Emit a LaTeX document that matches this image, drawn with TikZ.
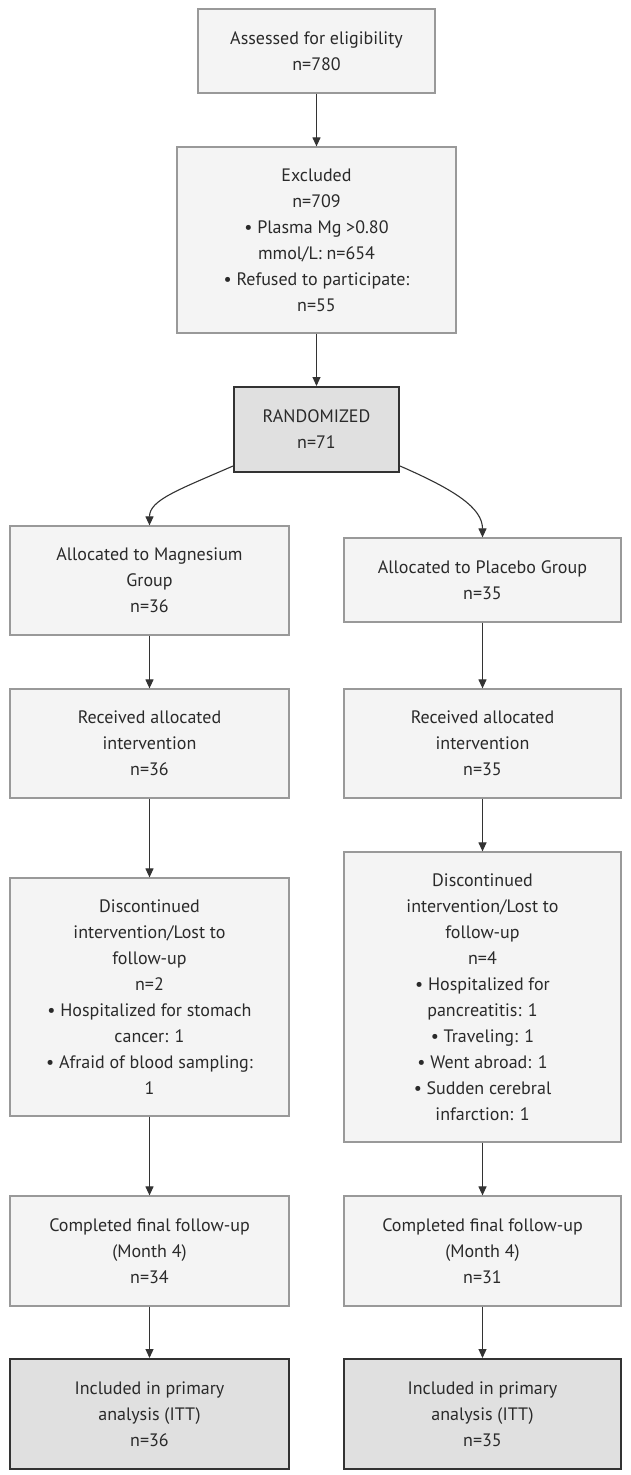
\documentclass[tikz,border=0pt]{standalone}
\usepackage{fontspec}
\setmainfont{PT Sans}
\usetikzlibrary{arrows.meta}
\definecolor{boxfill}{HTML}{F4F4F4}
\definecolor{boxline}{HTML}{999999}
\definecolor{keyfill}{HTML}{E0E0E0}
\definecolor{keyline}{HTML}{333333}
\definecolor{txt}{HTML}{2A2A2A}
\begin{document}
\begin{tikzpicture}[x=1pt,y=-1pt,
  flowbox/.style={draw=boxline,fill=boxfill,line width=1.2pt,align=center,inner sep=0pt,
    text=txt,font=\fontsize{18}{26}\selectfont},
  keybox/.style={flowbox,draw=keyline,fill=keyfill,line width=2pt},
  arr/.style={draw=keyline,line width=1.1pt,-{Triangle[length=9pt,width=8pt]}}]
\useasboundingbox[fill=white] (0,0) rectangle (630,1475);

\node[flowbox,minimum width=237pt,minimum height=84pt] (elig) at (316.5,51)
  {Assessed for eligibility\\n=780};
\node[flowbox,minimum width=279pt,minimum height=186pt] (excl) at (316.5,240)
  {Excluded\\n=709\\• Plasma Mg >0.80\\mmol/L: n=654\\• Refused to participate:\\n=55};
\node[keybox,minimum width=165pt,minimum height=85pt] (rand) at (316.5,429.5)
  {RANDOMIZED\\n=71};

\node[flowbox,minimum width=279pt,minimum height=109pt] (allocM) at (149.5,580.5)
  {Allocated to Magnesium\\Group\\n=36};
\node[flowbox,minimum width=277pt,minimum height=84pt] (allocP) at (482.5,580)
  {Allocated to Placebo Group\\n=35};

\node[flowbox,minimum width=279pt,minimum height=109pt] (recM) at (149.5,743.5)
  {Received allocated\\intervention\\n=36};
\node[flowbox,minimum width=277pt,minimum height=109pt] (recP) at (482.5,743.5)
  {Received allocated\\intervention\\n=35};

\node[flowbox,minimum width=279pt,minimum height=238pt] (discM) at (149.5,997)
  {Discontinued\\intervention/Lost to\\follow-up\\n=2\\• Hospitalized for stomach\\cancer: 1\\• Afraid of blood sampling:\\1};
\node[flowbox,minimum width=277pt,minimum height=290pt] (discP) at (482.5,997)
  {Discontinued\\intervention/Lost to\\follow-up\\n=4\\• Hospitalized for\\pancreatitis: 1\\• Traveling: 1\\• Went abroad: 1\\• Sudden cerebral\\infarction: 1};

\node[flowbox,minimum width=279pt,minimum height=110pt] (compM) at (149.5,1251)
  {Completed final follow-up\\(Month 4)\\n=34};
\node[flowbox,minimum width=277pt,minimum height=110pt] (compP) at (482.5,1251)
  {Completed final follow-up\\(Month 4)\\n=31};

\node[keybox,minimum width=279pt,minimum height=110pt] (inclM) at (149.5,1414)
  {Included in primary\\analysis (ITT)\\n=36};
\node[keybox,minimum width=277pt,minimum height=110pt] (inclP) at (482.5,1414)
  {Included in primary\\analysis (ITT)\\n=35};

\draw[arr] (elig) -- (excl);
\draw[arr] (excl) -- (rand);
\draw[arr] ([yshift=7pt]rand.south west) .. controls (178,490) and (149.5,500) .. (allocM.north);
\draw[arr] ([yshift=7pt]rand.south east) .. controls (455,490) and (482.5,508) .. (allocP.north);
\draw[arr] (allocM) -- (recM);
\draw[arr] (allocP) -- (recP);
\draw[arr] (recM) -- (discM);
\draw[arr] (recP) -- (discP);
\draw[arr] (discM) -- (compM);
\draw[arr] (discP) -- (compP);
\draw[arr] (compM) -- (inclM);
\draw[arr] (compP) -- (inclP);
\end{tikzpicture}
\end{document}
